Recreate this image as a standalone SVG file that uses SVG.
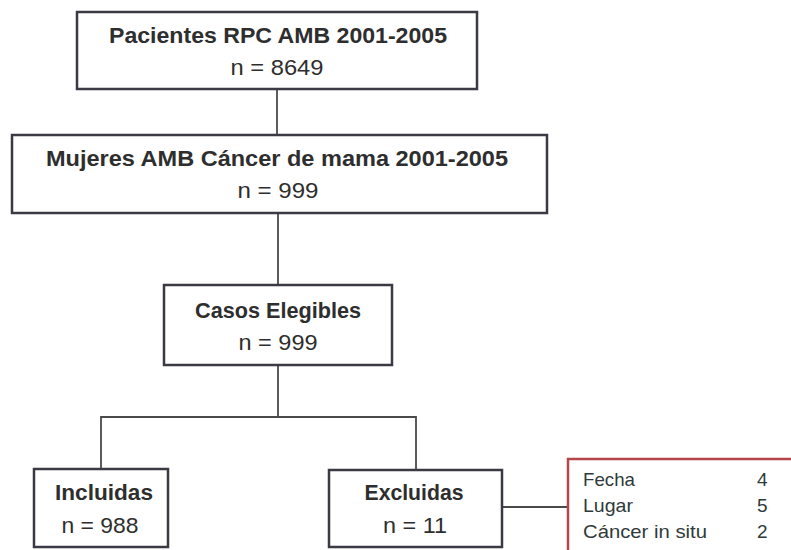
<svg xmlns="http://www.w3.org/2000/svg" width="791" height="550" viewBox="0 0 791 550">
  <style>
    .box { fill: #ffffff; stroke: #3a3a44; stroke-width: 2.5; }
    .red { fill: #ffffff; stroke: #b5464a; stroke-width: 2.5; }
    .edge { fill: none; stroke: #4a4a4a; stroke-width: 1.8; }
    .t { font-family: "Liberation Sans", Arial, sans-serif; font-size: 22px; fill: #2e2e2e; text-anchor: middle; }
    .b { font-weight: bold; }
    .s { font-family: "Liberation Sans", Arial, sans-serif; font-size: 19px; fill: #2f3a3a; }
  </style>
  <rect width="791" height="550" fill="#ffffff"/>
  <g id="connectors">
    <line class="edge" x1="277" y1="89" x2="277" y2="135"/>
    <line class="edge" x1="278" y1="213" x2="278" y2="285"/>
    <line class="edge" x1="278" y1="365" x2="278" y2="417"/>
    <polyline class="edge" points="101,469 101,417 416,417 416,470"/>
    <line class="edge" x1="502" y1="507" x2="568" y2="507"/>
  </g>
  <g id="node-pacientes">
    <rect class="box" x="77" y="12" width="400" height="77"/>
    <text class="t b" x="278" y="43" textLength="338" lengthAdjust="spacingAndGlyphs">Pacientes RPC AMB 2001-2005</text>
    <text class="t" x="277" y="75" textLength="93" lengthAdjust="spacingAndGlyphs">n = 8649</text>
  </g>
  <g id="node-mujeres">
    <rect class="box" x="12" y="135" width="535" height="78"/>
    <text class="t b" x="277" y="166" textLength="462" lengthAdjust="spacingAndGlyphs">Mujeres AMB Cáncer de mama 2001-2005</text>
    <text class="t" x="278" y="198" textLength="81" lengthAdjust="spacingAndGlyphs">n = 999</text>
  </g>
  <g id="node-casos">
    <rect class="box" x="164" y="285" width="228" height="80"/>
    <text class="t b" x="278" y="318" textLength="166" lengthAdjust="spacingAndGlyphs">Casos Elegibles</text>
    <text class="t" x="278" y="350" textLength="79" lengthAdjust="spacingAndGlyphs">n = 999</text>
  </g>
  <g id="node-incluidas">
    <rect class="box" x="34" y="469" width="134" height="78"/>
    <text class="t b" x="104" y="500" textLength="98" lengthAdjust="spacingAndGlyphs">Incluidas</text>
    <text class="t" x="100" y="533" textLength="77" lengthAdjust="spacingAndGlyphs">n = 988</text>
  </g>
  <g id="node-excluidas">
    <rect class="box" x="329" y="470" width="173" height="77"/>
    <text class="t b" x="414" y="500" textLength="99" lengthAdjust="spacingAndGlyphs">Excluidas</text>
    <text class="t" x="415" y="533" textLength="64" lengthAdjust="spacingAndGlyphs">n = 11</text>
  </g>
  <g id="node-motivos">
    <rect class="red" x="568" y="459" width="260" height="120"/>
    <text class="s" x="583" y="486" textLength="52" lengthAdjust="spacingAndGlyphs">Fecha</text>
    <text class="s" x="757" y="486">4</text>
    <text class="s" x="583" y="512" textLength="50" lengthAdjust="spacingAndGlyphs">Lugar</text>
    <text class="s" x="757" y="512">5</text>
    <text class="s" x="583" y="538" textLength="124" lengthAdjust="spacingAndGlyphs">Cáncer in situ</text>
    <text class="s" x="757" y="538">2</text>
  </g>
</svg>
